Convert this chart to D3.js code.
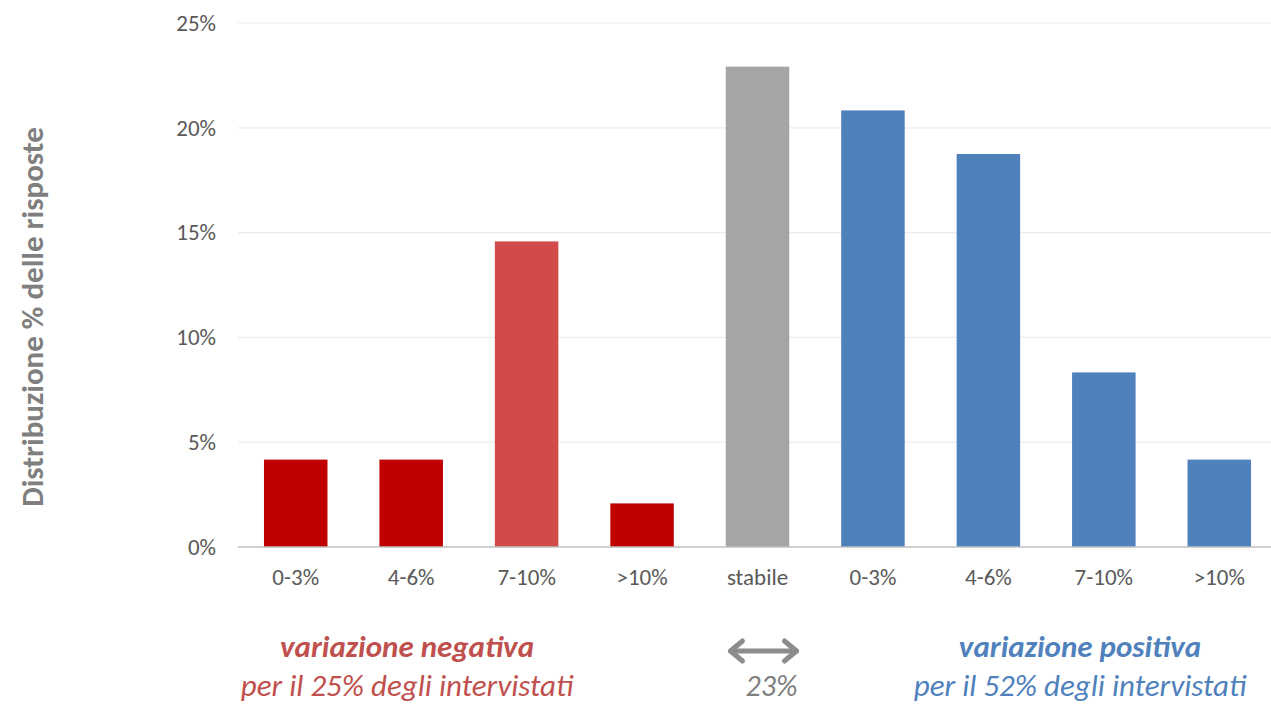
<!DOCTYPE html>
<html><head><meta charset="utf-8">
<script src="https://cdn.jsdelivr.net/npm/d3@7"></script>
<style>
html,body{margin:0;padding:0;background:#fff;}
svg{display:block;}
</style></head>
<body>
<svg id="c" width="1271" height="704"></svg>
<script>
const categories = ["0-3%","4-6%","7-10%",">10%","stabile","0-3%","4-6%","7-10%",">10%"];
const groups = ["neg","neg","neg","neg","stable","pos","pos","pos","pos"];
const values = [4.17, 4.17, 14.58, 2.08, 22.92, 20.83, 18.75, 8.33, 4.17];
const yTicks = [0, 5, 10, 15, 20, 25];
const yTickLabels = ["0%","5%","10%","15%","20%","25%"];

const colors = ["#c00000","#c00000","#d24b4b","#c00000","#a5a5a5","#4f81bd","#4f81bd","#4f81bd","#4f81bd"];

const svg = d3.select("#c");
const font = "Calibri, Carlito, Lato, 'Open Sans', sans-serif";

const x = d3.scaleBand().domain(d3.range(categories.length)).range([238, 1277]).paddingInner(0.45).paddingOuter(0.225);
const y = d3.scaleLinear().domain([0, 25]).range([547, 23]);

// gridlines
svg.append("g").selectAll("line").data(yTicks.filter(t => t > 0)).join("line")
  .attr("x1", 238).attr("x2", 1271)
  .attr("y1", d => y(d)).attr("y2", d => y(d))
  .attr("stroke", "#ececec").attr("stroke-width", 1.2);

// y axis labels
const yAxis = d3.axisLeft(y).tickValues(yTicks).tickFormat((d, i) => yTickLabels[i]).tickSize(0).tickPadding(0);
const ya = svg.append("g").attr("transform", "translate(216,0)").call(yAxis);
ya.select(".domain").remove();
ya.selectAll("text").attr("font-family", font).attr("font-size", 23).attr("fill", "#595959");

// bars
svg.append("g").selectAll("rect").data(values).join("rect")
  .attr("x", (d, i) => x(i)).attr("width", x.bandwidth())
  .attr("y", d => y(d)).attr("height", d => y(0) - y(d))
  .attr("fill", (d, i) => colors[i]);

// x axis
const xAxis = d3.axisBottom(x).tickFormat(i => categories[i]).tickSize(0).tickPadding(22);
const xa = svg.append("g").attr("transform", `translate(0,${y(0)})`).call(xAxis);
xa.select(".domain").attr("d", `M238,0H1271`).attr("stroke", "#bfbfbf").attr("stroke-width", 1.5);
xa.selectAll("text").attr("font-family", font).attr("font-size", 23).attr("fill", "#595959");

// y title
svg.append("text")
  .attr("transform", "translate(43,317) rotate(-90)")
  .attr("text-anchor", "middle")
  .attr("font-family", font).attr("font-weight", "bold").attr("font-size", 31)
  .attr("fill", "#7f7f7f")
  .text("Distribuzione % delle risposte");

// bottom annotations
const stC = x(4) + x.bandwidth() / 2;
const negC = 407, posC = 1080;

svg.append("text").attr("x", negC).attr("y", 657).attr("text-anchor", "middle")
  .attr("font-family", font).attr("font-weight", "bold").attr("font-style", "italic").attr("font-size", 31)
  .attr("fill", "#c0504d").text("variazione negativa");
svg.append("text").attr("x", negC).attr("y", 696).attr("text-anchor", "middle")
  .attr("font-family", font).attr("font-style", "italic").attr("font-size", 31)
  .attr("fill", "#c0504d").text("per il 25% degli intervistati");

svg.append("text").attr("x", posC).attr("y", 657).attr("text-anchor", "middle")
  .attr("font-family", font).attr("font-weight", "bold").attr("font-style", "italic").attr("font-size", 31)
  .attr("fill", "#4f81bd").text("variazione positiva");
svg.append("text").attr("x", posC).attr("y", 696).attr("text-anchor", "middle")
  .attr("font-family", font).attr("font-style", "italic").attr("font-size", 31)
  .attr("fill", "#4f81bd").text("per il 52% degli intervistati");

// arrow
const ay = 651, ax1 = stC - 27, ax2 = stC + 39;
const ag = svg.append("g").attr("stroke", "#8c8c8c").attr("stroke-width", 5).attr("fill", "none").attr("stroke-linecap", "round").attr("stroke-linejoin", "round");
ag.append("path").attr("d", `M${ax1},${ay}H${ax2}`);
ag.append("path").attr("d", `M${ax1 + 12},${ay - 10}L${ax1},${ay}L${ax1 + 12},${ay + 10}`);
ag.append("path").attr("d", `M${ax2 - 12},${ay - 10}L${ax2},${ay}L${ax2 - 12},${ay + 10}`);

svg.append("text").attr("x", stC + 14).attr("y", 696).attr("text-anchor", "middle")
  .attr("font-family", font).attr("font-style", "italic").attr("font-size", 30)
  .attr("fill", "#7f7f7f").text("23%");
</script>
</body></html>
